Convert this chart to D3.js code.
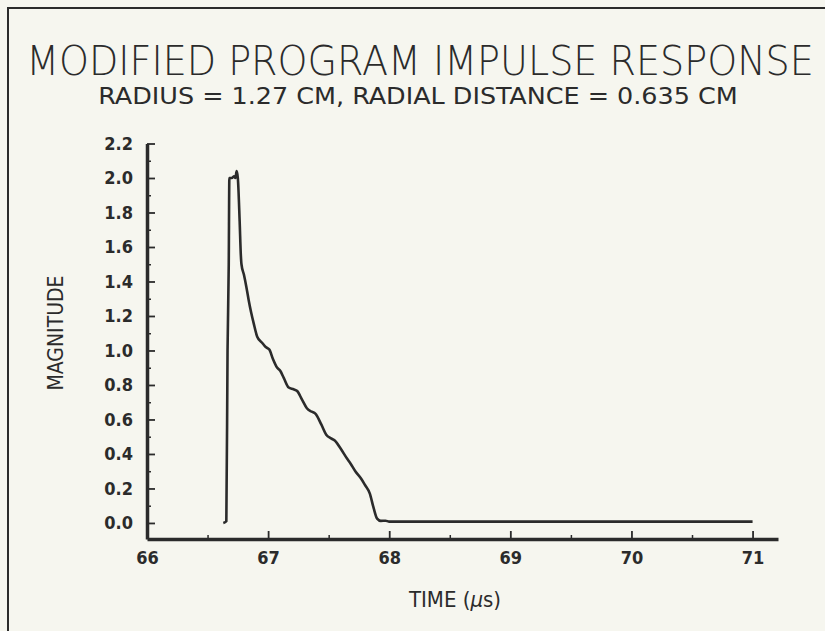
<!DOCTYPE html>
<html>
<head>
<meta charset="utf-8">
<script src="https://cdn.jsdelivr.net/npm/d3@7"></script>
<style>
  body { margin: 0; background: #f6f6ef; }
  svg { display: block; }
  text { fill: #2b2b2b; }
</style>
</head>
<body>
<div id="chart-area"></div>
<script>
// impulse response (time in microseconds)
const time = [66.63, 66.655, 66.665, 66.675, 66.68, 66.70, 66.72, 66.73, 66.74, 66.75, 66.765, 66.775,
  66.78, 66.80, 66.82, 66.84, 66.86, 66.88, 66.91, 66.95, 66.98, 67.01, 67.04, 67.07, 67.10, 67.13,
  67.17, 67.21, 67.24, 67.28, 67.32, 67.36, 67.39, 67.44, 67.48, 67.52, 67.55, 67.60, 67.65, 67.68,
  67.72, 67.77, 67.80, 67.84, 67.87, 67.90, 67.93, 67.97, 68.0, 71.0];
const magnitude = [0.0, 0.01, 1.0, 1.5, 2.0, 2.0, 2.01, 2.0, 2.04, 2.0, 1.75, 1.55,
  1.5, 1.44, 1.37, 1.29, 1.22, 1.16, 1.08, 1.045, 1.02, 1.005, 0.95, 0.905, 0.882, 0.84,
  0.785, 0.775, 0.765, 0.715, 0.665, 0.645, 0.634, 0.57, 0.512, 0.49, 0.478, 0.43, 0.375, 0.345,
  0.30, 0.255, 0.22, 0.17, 0.09, 0.025, 0.012, 0.013, 0.008, 0.008];

const xTicks = [66, 67, 68, 69, 70, 71];
const xMinor = [66.5, 67.5, 68.5, 69.5, 70.5];
const yTicks = [0.0, 0.2, 0.4, 0.6, 0.8, 1.0, 1.2, 1.4, 1.6, 1.8, 2.0, 2.2];
const yMinor = [0.1, 0.3, 0.5, 0.7, 0.9, 1.1, 1.3, 1.5, 1.7, 1.9, 2.1];

const title = "MODIFIED PROGRAM IMPULSE RESPONSE";
const subtitle = "RADIUS = 1.27 CM, RADIAL DISTANCE = 0.635 CM";
const xLabel = ["TIME (", "\u03bc", "s)"];
const yLabel = "MAGNITUDE";

const width = 825;
const height = 631;
const ink = "#2b2b2b";
const font = "'DejaVu Sans Condensed', 'DejaVu Sans', sans-serif";

var svg = d3.select("#chart-area").append("svg")
  .attr("width", width)
  .attr("height", height);

// frame (only top and left edges show)
svg.append("path")
  .attr("d", "M8,631 V8 H825")
  .attr("fill", "none")
  .attr("stroke", ink)
  .attr("stroke-width", 2);

var x = d3.scaleLinear()
  .domain([66, 71.21])
  .range([147, 778]);

var y = d3.scaleLinear()
  .domain([-0.093, 2.2])
  .range([539, 143.5]);

// minor ticks
svg.append("g")
  .attr("transform", "translate(0,539)")
  .call(d3.axisBottom(x).tickValues(xMinor).tickSize(-4).tickFormat(""))
  .call(g => g.select(".domain").remove())
  .selectAll("line").attr("stroke", ink).attr("stroke-width", 1.5);

svg.append("g")
  .attr("transform", "translate(147,0)")
  .call(d3.axisLeft(y).tickValues(yMinor).tickSize(-4).tickFormat(""))
  .call(g => g.select(".domain").remove())
  .selectAll("line").attr("stroke", ink).attr("stroke-width", 1.5);

// major axes
var xAxis = svg.append("g")
  .attr("transform", "translate(0,539)")
  .call(d3.axisBottom(x).tickValues(xTicks).tickSizeInner(-8).tickSizeOuter(0).tickPadding(12).tickFormat(d3.format("d")));

var yAxis = svg.append("g")
  .attr("transform", "translate(147,0)")
  .call(d3.axisLeft(y).tickValues(yTicks).tickSizeInner(-8).tickSizeOuter(0).tickPadding(14).tickFormat(d3.format(".1f")));

[xAxis, yAxis].forEach(function(g) {
  g.select(".domain").attr("stroke", ink).attr("stroke-width", 3.5);
  g.selectAll(".tick line").attr("stroke", ink).attr("stroke-width", 1.8);
  g.selectAll(".tick text")
    .attr("fill", ink)
    .style("font-family", font)
    .style("font-weight", "bold")
    .style("font-size", "18px");
});

var line = d3.line()
  .x((d, i) => x(time[i]))
  .y(d => y(d))
  .curve(d3.curveMonotoneX);

svg.append("path")
  .datum(magnitude)
  .attr("fill", "none")
  .attr("stroke", ink)
  .attr("stroke-width", 2.6)
  .attr("stroke-linejoin", "round")
  .attr("d", line);

// stretch or squeeze a centred text horizontally to a given width
function fitText(sel, cx, cy, w) {
  var natural = sel.node().getComputedTextLength();
  sel.attr("transform", `translate(${cx},${cy}) scale(${w / natural},1)`);
}

var t1 = svg.append("text")
  .attr("text-anchor", "middle")
  .style("font-family", "'DejaVu Sans', sans-serif")
  .style("font-weight", "200")
  .style("font-size", "40px")
  .text(title);
fitText(t1, 420, 75, 788);

var t2 = svg.append("text")
  .attr("text-anchor", "middle")
  .style("font-family", font)
  .style("font-size", "23px")
  .text(subtitle);
fitText(t2, 418, 104, 640);

svg.append("text")
  .attr("transform", "translate(63,333) rotate(-90)")
  .attr("text-anchor", "middle")
  .style("font-family", font)
  .style("font-size", "21px")
  .text(yLabel);

var xl = svg.append("text")
  .attr("x", 455)
  .attr("y", 607)
  .attr("text-anchor", "middle")
  .style("font-family", font)
  .style("font-size", "22px");
xl.selectAll("tspan")
  .data(xLabel)
  .enter().append("tspan")
  .style("font-style", (d, i) => i === 1 ? "italic" : "normal")
  .text(d => d);
</script>
</body>
</html>
